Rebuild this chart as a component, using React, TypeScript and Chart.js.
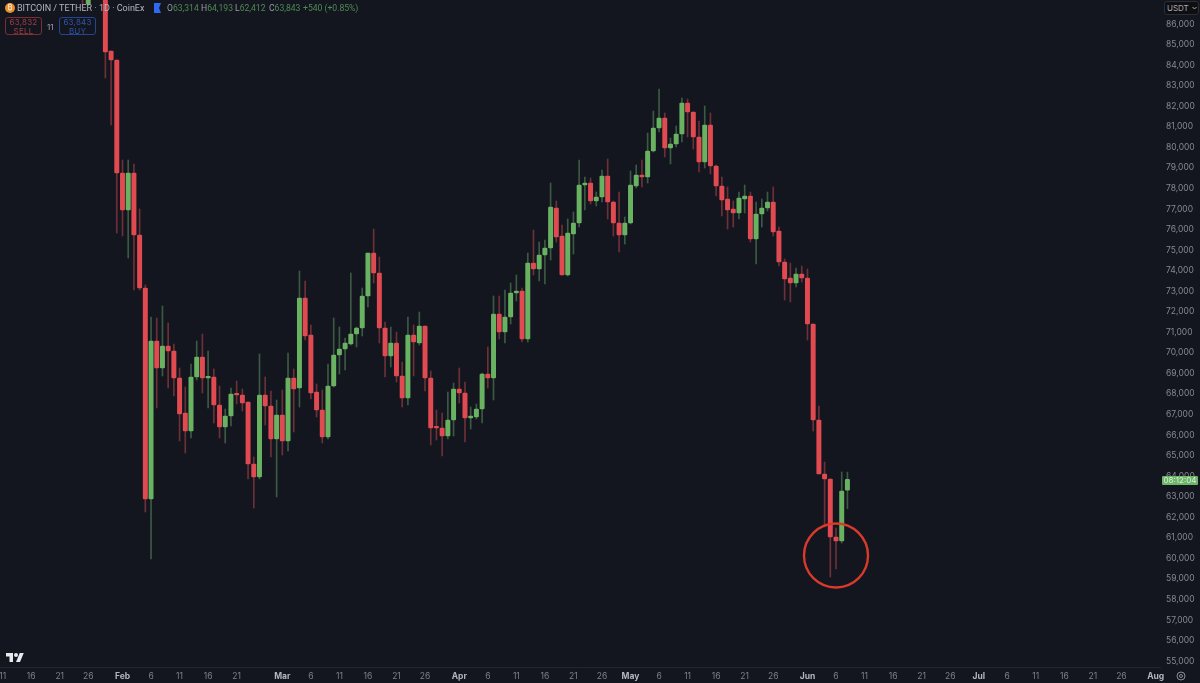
import React, { useEffect, useRef } from "react";
import { Chart, registerables } from "chart.js";

Chart.register(...registerables);

// Day numbers are counted from 1 Feb; the first candle is 7 days before it.
const firstDay = -7;
const opens = [88500,86973,87600,88400,88900,84686,84248,78750,76949,78750,75733,73154,62886,70575,69261,70332,70089,68775,67071,66195,68823,69796,68775,68823,67461,66390,66925,67996,67948,67607,64590,63958,67948,67412,65806,66974,65709,68775,68288,72668,70867,68094,67217,65904,68385,69894,70186,70429,70915,71208,72765,74857,73884,71208,69845,70478,68872,67802,70867,70478,71305,68775,66390,66341,65952,66731,68240,68045,66828,66877,67266,68969,68775,71889,71013,71743,72911,73008,70672,74370,74078,74760,75100,77047,75684,73786,75781,76317,78166,78263,77387,77582,78604,77339,76317,75733,76317,78117,78653,78555,79820,80940,81426,79966,80161,80648,82156,81719,80502,79285,81085,79090,78117,77485,76998,76803,77485,77631,75538,76755,77047,77339,75927,74419,73641,73397,73835,73641,71402,66731,64104,63860,61037,60843,63314];
const highs = [89000,88000,89000,89500,89300,84686,84248,79382,79382,79188,76998,73300,71743,71694,72278,71451,70429,69261,68337,69456,70575,70915,70089,69213,68385,67266,68288,68629,68240,67607,64930,69942,68823,68142,67704,68191,69991,69213,73981,73495,71353,68483,68191,69456,71694,71256,70721,73884,71256,73154,74857,76025,74662,71499,71256,71013,69553,71743,71353,71986,71305,69115,67217,67071,68094,68531,69261,68580,67363,67510,69018,70283,72765,72765,73057,73397,73786,73154,74857,75976,75392,75490,78263,77387,76220,76512,76852,79382,78555,78507,77825,78896,79431,77387,77825,76609,78847,79139,79382,80696,81767,82837,81670,80453,81037,82399,82351,81719,81280,82010,81670,79139,78555,78068,77387,77825,78166,77825,77339,77485,77825,78068,76122,74565,74370,74127,74224,74078,71402,67412,64687,63860,61475,64201,64193];
const lows = [86925,86900,87300,87500,83372,81085,75830,75684,74614,73057,73057,62254,59967,67315,68872,68288,67899,65709,65125,65855,68677,68045,67315,66585,65855,65612,66439,67510,67169,63860,62448,63860,66487,64930,62984,65027,65222,66147,67363,70624,67753,66877,65612,65806,68337,68969,69164,70380,70283,70818,72229,73397,70478,68823,69310,68580,67363,67461,68872,70380,68142,65514,65758,64979,65806,65952,67558,65660,66293,66779,66585,68288,67704,70672,70478,71402,72522,70526,70526,73786,73495,73349,74516,75392,73786,73738,74808,76122,76949,77241,77144,77339,76512,75684,74906,75295,76268,78020,78068,78263,79772,80745,79528,79188,80015,80258,80502,79918,78798,78993,78701,77631,76657,76025,76122,76512,76803,75392,74322,76122,76901,75684,74224,72570,72473,73202,73446,70624,66195,64104,61524,59092,59481,60745,62412];
const closes = [87400,87600,88400,88900,84638,84248,78750,76949,78750,75733,73154,62886,70575,69261,70332,70089,68775,67023,66195,68823,69796,68775,68823,67461,66390,66925,67996,67948,67558,64590,63958,67948,67412,65806,66974,65709,68775,68240,72668,70818,68045,67217,65904,68385,69894,70186,70478,70915,71208,72765,74857,73884,71208,69845,70478,68872,67802,70867,70526,71305,68775,66341,66341,65952,66731,68240,68045,66828,66925,67266,68969,68775,71889,71013,71743,72911,73008,70672,74370,74078,74760,75100,77095,75636,73786,75830,76317,78166,78263,77387,77582,78604,77339,76317,75733,76317,78166,78653,78555,79820,80940,81426,79966,80161,80648,82156,81719,80502,79285,81085,79090,78117,77436,76949,76803,77533,77631,75538,76755,77047,77339,75879,74419,73592,73397,73835,73641,71402,66731,64104,63860,61037,60843,63276,63843];

const circleDay = 125;
const circlePrice = 60140;

const priceTicks = [86000,85000,84000,83000,82000,81000,80000,79000,78000,77000,76000,75000,74000,73000,72000,71000,70000,69000,68000,67000,66000,65000,64000,63000,62000,61000,60000,59000,58000,57000,56000,55000];
const timeTickDays = [-21,-16,-11,-6,0,5,10,15,20,28,33,38,43,48,53,59,64,69,74,79,84,89,94,99,104,109,114,120,125,130,135,140,145,150,155,160,165,170,175,181];
const timeTickLabels = ["11","16","21","26","Feb","6","11","16","21","Mar","6","11","16","21","26","Apr","6","11","16","21","26","May","6","11","16","21","26","Jun","6","11","16","21","26","Jul","6","11","16","21","26","Aug"];

const BG = "#13161f";
const RED = "#e04a50";
const GREEN = "#69b262";
const RED_WICK = "#6e3038";
const GREEN_WICK = "#3c5a43";
const FONT = "Inter, 'Noto Sans', sans-serif";
const HEAD_FONT = "Roboto, sans-serif";

const abs = (x: number, y: number, extra: React.CSSProperties = {}): React.CSSProperties => ({
  position: "absolute",
  left: x,
  top: y,
  lineHeight: 1,
  whiteSpace: "nowrap",
  ...extra,
});

export default function App() {
  const ref = useRef<HTMLCanvasElement | null>(null);

  useEffect(() => {
    document.body.style.margin = "0";
    document.body.style.background = BG;
    const up = opens.map((o, i) => closes[i] >= o);
    const chart = new Chart(ref.current as HTMLCanvasElement, {
      type: "bar",
      data: {
        datasets: [
          {
            type: "scatter",
            order: 0,
            data: [{ x: circleDay, y: circlePrice }],
            pointRadius: 32,
            pointBorderWidth: 2.4,
            pointBorderColor: "#d93a2b",
            pointBackgroundColor: "rgba(0,0,0,0)",
          },
          {
            order: 1,
            data: opens.map((o, i) => ({ x: firstDay + i, y: [o, closes[i]] })),
            backgroundColor: up.map((u) => (u ? GREEN : RED)),
            barThickness: 4.3,
            minBarLength: 1.6,
            borderRadius: 1,
            borderSkipped: false,
            grouped: false,
          },
          {
            order: 2,
            data: lows.map((l, i) => ({ x: firstDay + i, y: [l, highs[i]] })),
            backgroundColor: up.map((u) => (u ? GREEN_WICK : RED_WICK)),
            barThickness: 1,
            grouped: false,
          },
        ],
      } as any,
      options: {
        responsive: false,
        animation: false,
        events: [],
        layout: { padding: 0, autoPadding: false },
        plugins: { legend: { display: false }, tooltip: { enabled: false } },
        scales: {
          x: {
            type: "linear",
            offset: false,
            min: -21.46,
            max: 181.76,
            grid: { display: false, drawTicks: false },
            border: { display: true, color: "#23262f", width: 1 },
            afterFit: (s: any) => {
              s.height = 16;
              s.paddingLeft = 0;
              s.paddingRight = 0;
            },
            afterBuildTicks: (s: any) => { s.ticks = timeTickDays.map((value) => ({ value })); },
            ticks: {
              autoSkip: false,
              maxRotation: 0,
              padding: 4,
              color: (c: any) => (c.index !== undefined && isNaN(Number(timeTickLabels[c.index])) ? "#b4b6bc" : "#7d808a"),
              font: (c: any) => ({
                family: FONT,
                size: 8.5,
                weight: c.index !== undefined && isNaN(Number(timeTickLabels[c.index])) ? 700 : 400,
              }),
              callback: (_v: any, i: number) => timeTickLabels[i],
            },
          },
          y: {
            type: "linear",
            position: "right",
            min: 54712,
            max: 87168,
            grid: { display: false, drawTicks: false },
            border: { display: false },
            afterFit: (s: any) => {
              s.width = 40;
              s.paddingTop = 0;
              s.paddingBottom = 0;
            },
            afterBuildTicks: (s: any) => { s.ticks = priceTicks.map((value) => ({ value })); },
            ticks: {
              padding: 6,
              color: "#858892",
              font: { family: FONT, size: 8.5 },
              callback: (v: any) => Number(v).toLocaleString("en-US"),
            },
          },
        },
      } as any,
    });
    return () => chart.destroy();
  }, []);

  const dim = "#4f8a53";
  const lab = "#9a9ca3";
  const boxText: React.CSSProperties = { fontSize: 8, textAlign: "center", lineHeight: "8.5px", letterSpacing: 0.2 };
  const ohlc: React.CSSProperties = { fontSize: 8.6, fontFamily: HEAD_FONT, color: lab };

  return (
    <div style={{ position: "relative", width: 1200, height: 683, background: BG, overflow: "hidden", fontFamily: FONT }}>
      <canvas ref={ref} width={1200} height={683} style={{ position: "absolute", left: 0, top: 0, display: "block" }} />

      {/* header */}
      <div style={abs(5, 3, { width: 10, height: 10, borderRadius: 5, background: "#e8912d", color: "#fff", fontSize: 7, textAlign: "center", lineHeight: "10px" })}>₿</div>
      <div style={abs(17, 3, { fontSize: 9, fontFamily: HEAD_FONT, color: "#b4b6bc", lineHeight: "10px" })}>BITCOIN / TETHER · 1D · CoinEx</div>
      <svg style={abs(154, 3)} width="7" height="10" viewBox="0 0 7 10"><path d="M0 0H7L5 5L7 10H0Z" fill="#2f6bf0" /></svg>
      <div style={abs(167, 4, ohlc)}>O<span style={{ color: dim }}>63,314</span></div>
      <div style={abs(201, 4, ohlc)}>H<span style={{ color: dim }}>64,193</span></div>
      <div style={abs(235, 4, ohlc)}>L<span style={{ color: dim }}>62,412</span></div>
      <div style={abs(269, 4, ohlc)}>C<span style={{ color: dim }}>63,843</span></div>
      <div style={abs(303, 4, { ...ohlc, color: dim })}>+540 (+0.85%)</div>

      <div style={abs(5, 17, { width: 37, height: 18, boxSizing: "border-box", border: "1px solid #7a2f33", borderRadius: 3, color: "#a03c40", paddingTop: 0, ...boxText })}>63,832<br />SELL</div>
      <div style={abs(47, 23, { fontSize: 8, color: "#a0a2a8" })}>11</div>
      <div style={abs(59, 17, { width: 37, height: 18, boxSizing: "border-box", border: "1px solid #26448f", borderRadius: 3, color: "#2f55ad", paddingTop: 0, ...boxText })}>63,843<br />BUY</div>

      {/* currency */}
      <div style={abs(1164, 1, { width: 35, height: 14, boxSizing: "border-box", border: "1px solid #2c2e34", borderRadius: 3, background: "#0e0f13", color: "#a8aab0", fontSize: 8, lineHeight: "12px", paddingLeft: 2 })}>USDT</div>
      <svg style={abs(1192, 6)} width="5" height="4" viewBox="0 0 5 4"><path d="M0.5 1L2.5 3L4.5 1" stroke="#a8aab0" fill="none" /></svg>

      {/* last price countdown */}
      <div style={abs(1162, 476, { width: 36, height: 8.5, borderRadius: 1, background: "#6db568", color: "#d8eed6", fontSize: 8, lineHeight: "8.5px", textAlign: "center" })}>08:12:04</div>

      {/* TradingView mark */}
      <svg style={abs(6, 651)} width="18" height="11" viewBox="0 0 36 22"><path d="M14 22H7V11H0V4h14v18zM28 22h-8l7.5-18h8L28 22z" fill="#e8e9ec" /><circle cx="20" cy="8" r="4" fill="#e8e9ec" /></svg>

      {/* settings gear */}
      <svg style={abs(1176, 671)} width="10" height="10" viewBox="0 0 10 10"><circle cx="5" cy="5" r="4" fill="none" stroke="#8a8d96" strokeWidth="1" /><circle cx="5" cy="5" r="1.5" fill="none" stroke="#8a8d96" strokeWidth="1" /></svg>
    </div>
  );
}
